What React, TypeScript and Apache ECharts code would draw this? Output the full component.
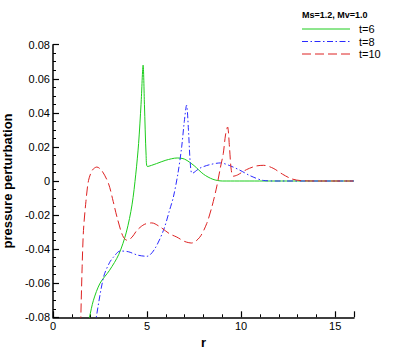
import React, { useEffect, useRef } from "react";
import * as echarts from "echarts";

const seriesNames = ["t=6", "t=8", "t=10"];
const legendTitle = "Ms=1.2, Mv=1.0";
const xTicks = [0, 5, 10, 15];
const yTicks = [-0.08, -0.06, -0.04, -0.02, 0, 0.02, 0.04, 0.06, 0.08];

const t6: [number, number][] = [
  [1.85, -0.085], [1.94, -0.08], [2.15, -0.07], [2.5, -0.06], [3.0, -0.0525], [3.5, -0.043],
  [3.9, -0.03], [4.2, -0.014], [4.4, 0.004], [4.55, 0.022], [4.68, 0.045], [4.79, 0.068],
  [4.86, 0.045], [4.95, 0.015], [5.02, 0.0085], [5.5, 0.0102], [6.0, 0.0122], [6.6, 0.0135],
  [7.0, 0.0128], [7.5, 0.009], [8.0, 0.004], [8.5, 0.001], [9.0, 0], [16, 0],
];
const t8: [number, number][] = [
  [2.25, -0.085], [2.3, -0.08], [2.69, -0.0563], [3.0, -0.048], [3.22, -0.0446], [3.57, -0.0411],
  [4.0, -0.0415], [4.5, -0.0435], [5.0, -0.0442], [5.4, -0.04], [5.87, -0.029], [6.2, -0.017],
  [6.4, -0.0094], [6.65, 0.005], [6.84, 0.02], [6.98, 0.035], [7.1, 0.0445], [7.2, 0.03],
  [7.3, 0.01], [7.4, 0.0045], [7.8, 0.0075], [8.3, 0.0095], [8.9, 0.0106], [9.4, 0.009],
  [9.94, 0.0063], [10.5, 0.003], [11.2, 0.0003], [12, 0], [16, 0],
];
const t10: [number, number][] = [
  [1.45, -0.1], [1.48, -0.08], [1.55, -0.05], [1.62, -0.029], [1.75, -0.012], [1.89, 0.0004],
  [2.1, 0.0065], [2.33, 0.0082], [2.6, 0.006], [2.95, -0.0015], [3.2, -0.012], [3.4, -0.0211],
  [3.7, -0.032], [3.93, -0.0348], [4.2, -0.033], [4.46, -0.029], [4.85, -0.0255], [5.25, -0.0246],
  [5.7, -0.027], [6.2, -0.031], [6.58, -0.0329], [7.0, -0.0355], [7.37, -0.0364], [7.8, -0.033],
  [8.17, -0.025], [8.45, -0.015], [8.7, -0.0035], [8.9, 0.008], [9.05, 0.016], [9.17, 0.027],
  [9.28, 0.0317], [9.38, 0.02], [9.47, 0.007], [9.58, 0.0028], [9.8, 0.0035], [10.29, 0.0067],
  [10.8, 0.0088], [11.2, 0.0092], [11.7, 0.0075], [12.2, 0.004], [12.7, 0.0012], [13.2, 0.0002],
  [14, 0], [16, 0],
];

const colors = ["#1ccc1c", "#2a2aff", "#dd2222"];
const dashes: any[] = ["solid", [6, 2.5, 1.5, 2.5], [9, 4]];
const datasets = [t6, t8, t10];

export default function App() {
  const ref = useRef<HTMLDivElement>(null);
  useEffect(() => {
    if (!ref.current) return;
    const chart = echarts.init(ref.current, null, { renderer: "svg" });
    const font = "Liberation Sans, Arial, sans-serif";
    const legendGraphics: any[] = [
      {
        type: "text",
        left: 302,
        top: 10,
        style: { text: legendTitle, font: `bold 9px ${font}`, fill: "#000" },
      },
    ];
    seriesNames.forEach((n, i) => {
      const y = 29 + i * 12.5;
      legendGraphics.push({
        type: "line",
        shape: { x1: 302, y1: y, x2: 350, y2: y },
        style: {
          stroke: colors[i],
          lineWidth: 1,
          lineDash: dashes[i] === "solid" ? null : dashes[i],
        },
      });
      legendGraphics.push({
        type: "text",
        x: 359,
        y: y,
        style: { text: n, font: `11px ${font}`, fill: "#000", verticalAlign: "middle" },
      });
    });
    chart.setOption({
      animation: false,
      grid: { left: 53, right: 49, top: 44.7, bottom: 40.7, containLabel: false, outerBoundsMode: "none" },
      xAxis: {
        type: "value",
        min: 0,
        max: 16,
        interval: 5,
        name: "r",
        nameLocation: "middle",
        nameGap: 12,
        nameTextStyle: { fontFamily: font, fontWeight: "bold", fontSize: 13, color: "#000", verticalAlign: "top" },
        axisLine: { onZero: false, lineStyle: { color: "#000", width: 1.5 } },
        axisTick: { inside: true, length: 6, lineStyle: { color: "#000", width: 1.2 } },
        minorTick: { show: true, splitNumber: 5, length: 3, lineStyle: { color: "#000" } },
        splitLine: { show: false },
        axisLabel: {
          fontFamily: font,
          fontSize: 11,
          color: "#000",
          margin: 3,
          formatter: (v: number) => (xTicks.includes(v) ? String(v) : ""),
        },
      },
      yAxis: {
        type: "value",
        min: -0.08,
        max: 0.08,
        interval: 0.02,
        name: "pressure perturbation",
        nameLocation: "middle",
        nameGap: 35,
        nameTextStyle: { fontFamily: font, fontWeight: "bold", fontSize: 13, color: "#000" },
        axisLine: { onZero: false, lineStyle: { color: "#000", width: 1.5 } },
        axisTick: { inside: true, length: 6, lineStyle: { color: "#000", width: 1.2 } },
        minorTick: { show: true, splitNumber: 4, length: 3, lineStyle: { color: "#000" } },
        splitLine: { show: false },
        axisLabel: {
          fontFamily: font,
          fontSize: 11,
          color: "#000",
          margin: 3,
          formatter: (v: number) => {
            const t = yTicks.find((k) => Math.abs(k - v) < 1e-9);
            if (t === undefined) return "";
            return t === 0 ? "0" : t.toFixed(2);
          },
        },
      },
      graphic: legendGraphics,
      series: datasets.map((d, i) => ({
        type: "line",
        name: seriesNames[i],
        data: d,
        showSymbol: false,
        smooth: 0.3,
        clip: true,
        lineStyle: { color: colors[i], width: 1, type: dashes[i] },
        itemStyle: { color: colors[i] },
      })),
    });
    return () => chart.dispose();
  }, []);
  return <div ref={ref} style={{ width: 403, height: 358, position: "absolute", left: 0, top: 0 }} />;
}
